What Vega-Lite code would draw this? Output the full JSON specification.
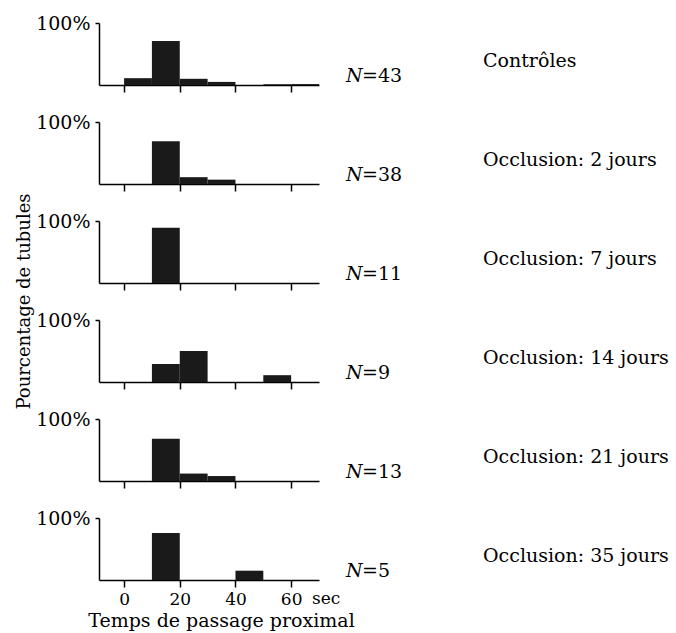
{
  "$schema": "https://vega.github.io/schema/vega-lite/v6.json",
  "background": "white",
  "padding": {"left": 14, "top": 14, "right": 8, "bottom": 4},
  "bounds": "flush",
  "spacing": 37,
  "datasets": {
    "bars": [
      {"panel": 1, "start": 0, "end": 10, "pct": 11},
      {"panel": 1, "start": 10, "end": 20, "pct": 71},
      {"panel": 1, "start": 20, "end": 30, "pct": 10},
      {"panel": 1, "start": 30, "end": 40, "pct": 5},
      {"panel": 1, "start": 50, "end": 60, "pct": 1.2},
      {"panel": 1, "start": 60, "end": 70, "pct": 1.5},
      {"panel": 2, "start": 10, "end": 20, "pct": 69},
      {"panel": 2, "start": 20, "end": 30, "pct": 11},
      {"panel": 2, "start": 30, "end": 40, "pct": 7},
      {"panel": 3, "start": 10, "end": 20, "pct": 89},
      {"panel": 4, "start": 10, "end": 20, "pct": 29},
      {"panel": 4, "start": 20, "end": 30, "pct": 50},
      {"panel": 4, "start": 50, "end": 60, "pct": 11},
      {"panel": 5, "start": 10, "end": 20, "pct": 68},
      {"panel": 5, "start": 20, "end": 30, "pct": 12},
      {"panel": 5, "start": 30, "end": 40, "pct": 8},
      {"panel": 6, "start": 10, "end": 20, "pct": 76},
      {"panel": 6, "start": 40, "end": 50, "pct": 15}
    ],
    "labels": [
      {"panel": 1, "n": "=43", "cond": "Contrôles"},
      {"panel": 2, "n": "=38", "cond": "Occlusion: 2 jours"},
      {"panel": 3, "n": "=11", "cond": "Occlusion: 7 jours"},
      {"panel": 4, "n": "=9", "cond": "Occlusion: 14 jours"},
      {"panel": 5, "n": "=13", "cond": "Occlusion: 21 jours"},
      {"panel": 6, "n": "=5", "cond": "Occlusion: 35 jours"}
    ]
  },
  "vconcat": [
    {
      "width": 220, "height": 62,
      "layer": [
        {"data": {"name": "bars"}, "transform": [{"filter": "datum.panel == 1"}],
         "mark": {"type": "bar", "color": "#1a1a1a"},
         "encoding": {
           "x": {"field": "start", "type": "quantitative", "scale": {"domain": [-9, 70], "nice": false, "zero": false}, "axis": {"values": [0, 10, 20, 30, 40, 50, 60], "labels": false, "title": null, "tickSize": 7}},
           "x2": {"field": "end"},
           "y": {"field": "pct", "type": "quantitative", "scale": {"domain": [0, 100], "nice": false}, "axis": {"values": [100], "labelExpr": "'100%'", "tickSize": 4, "labelPadding": 5, "labelFontSize": 19, "title": null}},
           "y2": {"datum": 0}
         }},
        {"data": {"name": "labels"}, "transform": [{"filter": "datum.panel == 1"}],
         "mark": {"type": "text", "fontStyle": "italic", "align": "left", "baseline": "alphabetic", "dy": -3},
         "encoding": {"x": {"datum": 79.7, "type": "quantitative"}, "y": {"datum": 0, "type": "quantitative"}, "text": {"value": "N"}}},
        {"data": {"name": "labels"}, "transform": [{"filter": "datum.panel == 1"}],
         "mark": {"type": "text", "align": "left", "baseline": "alphabetic", "dy": -3, "dx": 16},
         "encoding": {"x": {"datum": 79.7, "type": "quantitative"}, "y": {"datum": 0, "type": "quantitative"}, "text": {"field": "n"}}},
        {"data": {"name": "labels"}, "transform": [{"filter": "datum.panel == 1"}],
         "mark": {"type": "text", "align": "left", "baseline": "alphabetic", "dy": -18},
         "encoding": {"x": {"datum": 128.9, "type": "quantitative"}, "y": {"datum": 0, "type": "quantitative"}, "text": {"field": "cond"}}}
      ]
    },
    {
      "width": 220, "height": 62,
      "layer": [
        {"data": {"name": "bars"}, "transform": [{"filter": "datum.panel == 2"}],
         "mark": {"type": "bar", "color": "#1a1a1a"},
         "encoding": {
           "x": {"field": "start", "type": "quantitative", "scale": {"domain": [-9, 70], "nice": false, "zero": false}, "axis": {"values": [0, 10, 20, 30, 40, 50, 60], "labels": false, "title": null, "tickSize": 7}},
           "x2": {"field": "end"},
           "y": {"field": "pct", "type": "quantitative", "scale": {"domain": [0, 100], "nice": false}, "axis": {"values": [100], "labelExpr": "'100%'", "tickSize": 4, "labelPadding": 5, "labelFontSize": 19, "title": null}},
           "y2": {"datum": 0}
         }},
        {"data": {"name": "labels"}, "transform": [{"filter": "datum.panel == 2"}],
         "mark": {"type": "text", "fontStyle": "italic", "align": "left", "baseline": "alphabetic", "dy": -3},
         "encoding": {"x": {"datum": 79.7, "type": "quantitative"}, "y": {"datum": 0, "type": "quantitative"}, "text": {"value": "N"}}},
        {"data": {"name": "labels"}, "transform": [{"filter": "datum.panel == 2"}],
         "mark": {"type": "text", "align": "left", "baseline": "alphabetic", "dy": -3, "dx": 16},
         "encoding": {"x": {"datum": 79.7, "type": "quantitative"}, "y": {"datum": 0, "type": "quantitative"}, "text": {"field": "n"}}},
        {"data": {"name": "labels"}, "transform": [{"filter": "datum.panel == 2"}],
         "mark": {"type": "text", "align": "left", "baseline": "alphabetic", "dy": -18},
         "encoding": {"x": {"datum": 128.9, "type": "quantitative"}, "y": {"datum": 0, "type": "quantitative"}, "text": {"field": "cond"}}}
      ]
    },
    {
      "width": 220, "height": 62,
      "layer": [
        {"data": {"name": "bars"}, "transform": [{"filter": "datum.panel == 3"}],
         "mark": {"type": "bar", "color": "#1a1a1a"},
         "encoding": {
           "x": {"field": "start", "type": "quantitative", "scale": {"domain": [-9, 70], "nice": false, "zero": false}, "axis": {"values": [0, 10, 20, 30, 40, 50, 60], "labels": false, "title": null, "tickSize": 7}},
           "x2": {"field": "end"},
           "y": {"field": "pct", "type": "quantitative", "scale": {"domain": [0, 100], "nice": false}, "axis": {"values": [100], "labelExpr": "'100%'", "tickSize": 4, "labelPadding": 5, "labelFontSize": 19, "title": "Pourcentage de tubules", "titleAngle": -90, "titleX": -70, "titleY": 80, "titleAlign": "center", "titleBaseline": "alphabetic", "titleFontSize": 18}},
           "y2": {"datum": 0}
         }},
        {"data": {"name": "labels"}, "transform": [{"filter": "datum.panel == 3"}],
         "mark": {"type": "text", "fontStyle": "italic", "align": "left", "baseline": "alphabetic", "dy": -3},
         "encoding": {"x": {"datum": 79.7, "type": "quantitative"}, "y": {"datum": 0, "type": "quantitative"}, "text": {"value": "N"}}},
        {"data": {"name": "labels"}, "transform": [{"filter": "datum.panel == 3"}],
         "mark": {"type": "text", "align": "left", "baseline": "alphabetic", "dy": -3, "dx": 16},
         "encoding": {"x": {"datum": 79.7, "type": "quantitative"}, "y": {"datum": 0, "type": "quantitative"}, "text": {"field": "n"}}},
        {"data": {"name": "labels"}, "transform": [{"filter": "datum.panel == 3"}],
         "mark": {"type": "text", "align": "left", "baseline": "alphabetic", "dy": -18},
         "encoding": {"x": {"datum": 128.9, "type": "quantitative"}, "y": {"datum": 0, "type": "quantitative"}, "text": {"field": "cond"}}}
      ]
    },
    {
      "width": 220, "height": 62,
      "layer": [
        {"data": {"name": "bars"}, "transform": [{"filter": "datum.panel == 4"}],
         "mark": {"type": "bar", "color": "#1a1a1a"},
         "encoding": {
           "x": {"field": "start", "type": "quantitative", "scale": {"domain": [-9, 70], "nice": false, "zero": false}, "axis": {"values": [0, 10, 20, 30, 40, 50, 60], "labels": false, "title": null, "tickSize": 7}},
           "x2": {"field": "end"},
           "y": {"field": "pct", "type": "quantitative", "scale": {"domain": [0, 100], "nice": false}, "axis": {"values": [100], "labelExpr": "'100%'", "tickSize": 4, "labelPadding": 5, "labelFontSize": 19, "title": null}},
           "y2": {"datum": 0}
         }},
        {"data": {"name": "labels"}, "transform": [{"filter": "datum.panel == 4"}],
         "mark": {"type": "text", "fontStyle": "italic", "align": "left", "baseline": "alphabetic", "dy": -3},
         "encoding": {"x": {"datum": 79.7, "type": "quantitative"}, "y": {"datum": 0, "type": "quantitative"}, "text": {"value": "N"}}},
        {"data": {"name": "labels"}, "transform": [{"filter": "datum.panel == 4"}],
         "mark": {"type": "text", "align": "left", "baseline": "alphabetic", "dy": -3, "dx": 16},
         "encoding": {"x": {"datum": 79.7, "type": "quantitative"}, "y": {"datum": 0, "type": "quantitative"}, "text": {"field": "n"}}},
        {"data": {"name": "labels"}, "transform": [{"filter": "datum.panel == 4"}],
         "mark": {"type": "text", "align": "left", "baseline": "alphabetic", "dy": -18},
         "encoding": {"x": {"datum": 128.9, "type": "quantitative"}, "y": {"datum": 0, "type": "quantitative"}, "text": {"field": "cond"}}}
      ]
    },
    {
      "width": 220, "height": 62,
      "layer": [
        {"data": {"name": "bars"}, "transform": [{"filter": "datum.panel == 5"}],
         "mark": {"type": "bar", "color": "#1a1a1a"},
         "encoding": {
           "x": {"field": "start", "type": "quantitative", "scale": {"domain": [-9, 70], "nice": false, "zero": false}, "axis": {"values": [0, 10, 20, 30, 40, 50, 60], "labels": false, "title": null, "tickSize": 7}},
           "x2": {"field": "end"},
           "y": {"field": "pct", "type": "quantitative", "scale": {"domain": [0, 100], "nice": false}, "axis": {"values": [100], "labelExpr": "'100%'", "tickSize": 4, "labelPadding": 5, "labelFontSize": 19, "title": null}},
           "y2": {"datum": 0}
         }},
        {"data": {"name": "labels"}, "transform": [{"filter": "datum.panel == 5"}],
         "mark": {"type": "text", "fontStyle": "italic", "align": "left", "baseline": "alphabetic", "dy": -3},
         "encoding": {"x": {"datum": 79.7, "type": "quantitative"}, "y": {"datum": 0, "type": "quantitative"}, "text": {"value": "N"}}},
        {"data": {"name": "labels"}, "transform": [{"filter": "datum.panel == 5"}],
         "mark": {"type": "text", "align": "left", "baseline": "alphabetic", "dy": -3, "dx": 16},
         "encoding": {"x": {"datum": 79.7, "type": "quantitative"}, "y": {"datum": 0, "type": "quantitative"}, "text": {"field": "n"}}},
        {"data": {"name": "labels"}, "transform": [{"filter": "datum.panel == 5"}],
         "mark": {"type": "text", "align": "left", "baseline": "alphabetic", "dy": -18},
         "encoding": {"x": {"datum": 128.9, "type": "quantitative"}, "y": {"datum": 0, "type": "quantitative"}, "text": {"field": "cond"}}}
      ]
    },
    {
      "width": 220, "height": 62,
      "layer": [
        {"data": {"name": "bars"}, "transform": [{"filter": "datum.panel == 6"}],
         "mark": {"type": "bar", "color": "#1a1a1a"},
         "encoding": {
           "x": {"field": "start", "type": "quantitative", "scale": {"domain": [-9, 70], "nice": false, "zero": false}, "axis": {"values": [0, 10, 20, 30, 40, 50, 60], "labelExpr": "datum.value % 20 == 0 ? datum.label : ''", "labelPadding": 4, "labelFontSize": 17, "tickSize": 7, "title": "Temps de passage proximal", "titleX": 122, "titleY": 46, "titleAlign": "center", "titleBaseline": "alphabetic", "titleFontSize": 19}},
           "x2": {"field": "end"},
           "y": {"field": "pct", "type": "quantitative", "scale": {"domain": [0, 100], "nice": false}, "axis": {"values": [100], "labelExpr": "'100%'", "tickSize": 4, "labelPadding": 5, "labelFontSize": 19, "title": null}},
           "y2": {"datum": 0}
         }},
        {"data": {"name": "labels"}, "transform": [{"filter": "datum.panel == 6"}],
         "mark": {"type": "text", "fontStyle": "italic", "align": "left", "baseline": "alphabetic", "dy": -3},
         "encoding": {"x": {"datum": 79.7, "type": "quantitative"}, "y": {"datum": 0, "type": "quantitative"}, "text": {"value": "N"}}},
        {"data": {"name": "labels"}, "transform": [{"filter": "datum.panel == 6"}],
         "mark": {"type": "text", "align": "left", "baseline": "alphabetic", "dy": -3, "dx": 16},
         "encoding": {"x": {"datum": 79.7, "type": "quantitative"}, "y": {"datum": 0, "type": "quantitative"}, "text": {"field": "n"}}},
        {"data": {"name": "labels"}, "transform": [{"filter": "datum.panel == 6"}],
         "mark": {"type": "text", "align": "left", "baseline": "alphabetic", "dy": -18},
         "encoding": {"x": {"datum": 128.9, "type": "quantitative"}, "y": {"datum": 0, "type": "quantitative"}, "text": {"field": "cond"}}},
        {"data": {"name": "labels"}, "transform": [{"filter": "datum.panel == 6"}],
         "mark": {"type": "text", "align": "left", "baseline": "top", "dy": 11, "fontSize": 17},
         "encoding": {"x": {"datum": 67.5, "type": "quantitative"}, "y": {"datum": 0, "type": "quantitative"}, "text": {"value": "sec"}}}
      ]
    }
  ],
  "config": {
    "view": {"stroke": null},
    "font": "DejaVu Serif",
    "axis": {"domainColor": "#000", "tickColor": "#000", "labelColor": "#000", "titleColor": "#000", "labelFont": "DejaVu Serif", "titleFont": "DejaVu Serif", "titleFontWeight": "normal", "grid": false, "domainWidth": 1.5, "tickWidth": 1.5},
    "text": {"font": "DejaVu Serif", "fontSize": 19, "color": "#000"}
  }
}
